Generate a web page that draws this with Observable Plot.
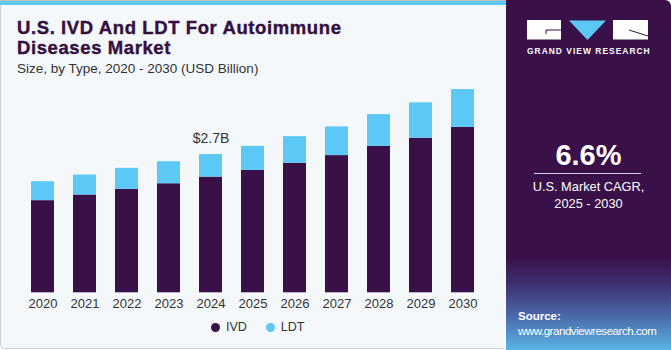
<!DOCTYPE html>
<html>
<head>
<meta charset="utf-8">
<script src="https://cdn.jsdelivr.net/npm/d3@7"></script>
<script src="https://cdn.jsdelivr.net/npm/@observablehq/plot@0.6"></script>
<style>
  html, body { margin: 0; padding: 0; background: #ffffff; }
  body { width: 671px; height: 350px; overflow: hidden; font-family: "Liberation Sans", Arial, sans-serif; }
  #wrap { position: relative; width: 671px; height: 350px; }
  #left { position: absolute; left: 0; top: 0; width: 505px; height: 349px; background: #f4f8fb;
          border-left: 1px solid #cfd3d6; border-bottom: 1px solid #cfd3d6; border-bottom-left-radius: 5px; box-sizing: border-box; }
  #stripe { position: absolute; left: 0; top: 0; width: 506px; height: 5px; background: #5bc8f5; border-top: 1px solid #b9c3c8; box-sizing: border-box; }
  #title { position: absolute; left: 17px; top: 18px; font-size: 18.5px; font-weight: 700; color: #35103f; line-height: 19.5px; letter-spacing: 0.6px; -webkit-text-stroke: 0.4px #35103f; }
  #subtitle { position: absolute; left: 17px; top: 61px; font-size: 13.5px; color: #333; }
  #chart { position: absolute; left: 0; top: 70px; }
  #legend { position: absolute; top: 320px; left: 211px; display: flex; align-items: center; font-size: 12.5px; color: #333; }
  #legend .sw { width: 9px; height: 9px; border-radius: 50%; display: inline-block; margin-right: 6px; }
  #legend .it { display: flex; align-items: center; margin-right: 19px; }
  #right { position: absolute; left: 506px; top: 0; width: 165px; height: 350px; border-top-right-radius: 6px;
           background: linear-gradient(to bottom, #3a1048 0%, #3a1048 73%, #3e2f6e 81%, #4a67a8 90%, #5ab4e6 100%); overflow: hidden; }
  #cagr { position: absolute; left: 0; width: 165px; top: 139px; text-align: center; color: #fff; font-size: 29px; font-weight: 700; }
  #rule { position: absolute; left: 28px; width: 107px; top: 173px; height: 1px; background: #d9cfe0; }
  #cagrlab { position: absolute; left: 0; width: 165px; top: 178px; text-align: center; color: #fff; font-size: 12.8px; line-height: 17px; }
  #gvr { position: absolute; left: 21px; top: 46px; color: #fff; font-size: 8.4px; font-weight: 700; letter-spacing: 1.05px; }
  #src { position: absolute; left: 12px; top: 309px; color: #fff; font-size: 11.5px; line-height: 15px; letter-spacing: -0.45px; }
</style>
</head>
<body>
<div id="wrap">
  <div id="left"></div>
  <div id="stripe"></div>
  <div id="title">U.S. IVD And LDT For Autoimmune<br>Diseases Market</div>
  <div id="subtitle">Size, by Type, 2020 - 2030 (USD Billion)</div>
  <div id="chart"></div>
  <div id="legend"></div>
  <div id="right">
    <svg width="165" height="45" style="position:absolute;left:0;top:0">
      <rect x="21" y="20" width="34" height="19.5" fill="#ffffff"/>
      <line x1="40" y1="30" x2="55" y2="30" stroke="#3a1048" stroke-width="1"/>
      <line x1="40" y1="30" x2="40" y2="34" stroke="#3a1048" stroke-width="1"/>
      <polygon points="63,20.5 100,20.5 81.5,40" fill="#5bc8f5"/>
      <rect x="107" y="20" width="35" height="19.5" fill="#ffffff"/>
      <line x1="123" y1="30" x2="142" y2="36" stroke="#3a1048" stroke-width="1"/>
    </svg>
    <div id="gvr">GRAND VIEW RESEARCH</div>
    <div id="cagr">6.6%</div>
    <div id="rule"></div>
    <div id="cagrlab">U.S. Market CAGR,<br>2025 - 2030</div>
    <div id="src"><b style="letter-spacing:0">Source:</b><br>www.grandviewresearch.com</div>
  </div>
</div>
<script>
const years = ["2020","2021","2022","2023","2024","2025","2026","2027","2028","2029","2030"];
const ivd = [1.80, 1.91, 2.02, 2.13, 2.26, 2.39, 2.53, 2.68, 2.86, 3.02, 3.23];
const ldt = [0.37, 0.39, 0.41, 0.43, 0.44, 0.47, 0.52, 0.56, 0.62, 0.69, 0.74];
const seriesNames = ["IVD", "LDT"];
const seriesColors = ["#3a1048", "#5bc8f5"];
const annotation = {year: "2024", label: "$2.7B"};

const rows = [];
years.forEach((y, i) => {
  rows.push({year: y, type: "IVD", value: ivd[i]});
  rows.push({year: y, type: "LDT", value: ldt[i]});
});
const totals = years.map((y, i) => ({year: y, total: ivd[i] + ldt[i]}));
const annot = totals.filter(d => d.year === annotation.year).map(d => ({...d, label: annotation.label}));

const plot = Plot.plot({
  width: 505,
  height: 250,
  marginLeft: 12,
  marginRight: 12,
  marginTop: 17.5,
  marginBottom: 27.7,
  style: {background: "transparent", fontFamily: "Liberation Sans, Arial, sans-serif", fontSize: "13px", color: "#333"},
  x: {domain: years, padding: 0.45, label: null, tickSize: 0, tickPadding: 6},
  y: {domain: [0, 4], axis: null},
  color: {domain: seriesNames, range: seriesColors},
  marks: [
    Plot.barY(rows, Plot.stackY({x: "year", y: "value", fill: "type", order: seriesNames})),
    Plot.text(annot, {x: "year", y: "total", text: "label", dy: -16, fontSize: 14, fill: "#333"})
  ]
});
document.getElementById("chart").appendChild(plot);

const lg = document.getElementById("legend");
seriesNames.forEach((n, i) => {
  const it = document.createElement("div");
  it.className = "it";
  it.innerHTML = `<span class="sw" style="background:${seriesColors[i]}"></span>${n}`;
  lg.appendChild(it);
});
</script>
</body>
</html>
